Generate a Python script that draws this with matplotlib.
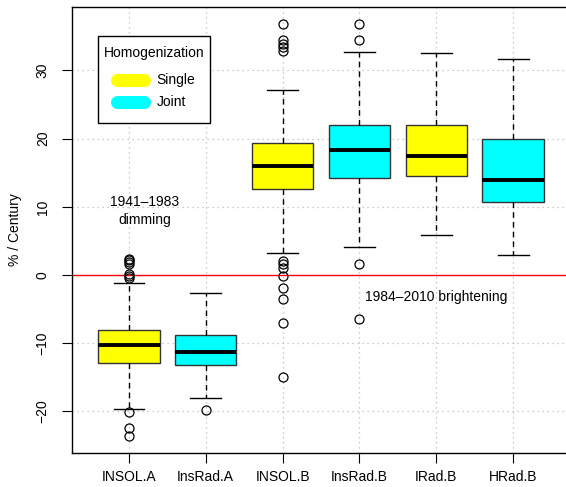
import matplotlib
matplotlib.use("Agg")
from matplotlib import pyplot as plt
from matplotlib.lines import Line2D
from matplotlib.patches import Rectangle

plt.rcParams['font.family'] = ['Liberation Sans', 'DejaVu Sans']

# Box statistics (% / century)
labels = ['INSOL.A', 'InsRad.A', 'INSOL.B', 'InsRad.B', 'IRad.B', 'HRad.B']
colors = ['yellow', 'cyan', 'yellow', 'cyan', 'yellow', 'cyan']
q1 = [-12.9, -13.2, 12.6, 14.2, 14.5, 10.7]
med = [-10.2, -11.3, 16.0, 18.3, 17.5, 13.9]
q3 = [-8.0, -8.8, 19.3, 22.0, 22.0, 19.9]
whis_lo = [-19.7, -18.1, 3.3, 4.1, 5.8, 2.9]
whis_hi = [-1.1, -2.7, 27.1, 32.7, 32.6, 31.7]
fliers = [
    [2.4, 2.2, 1.9, 1.6, 0.1, -0.2, -0.5, -20.1, -22.5, -23.6],
    [-19.8],
    [36.8, 34.4, 33.9, 33.4, 32.9, 2.1, 1.6, 1.0, -0.1, -1.9, -3.5, -7.1, -15.0],
    [36.8, 34.4, 1.6, -6.4],
    [],
    [],
]
legend_labels = ['Single', 'Joint']
legend_colors = ['yellow', 'cyan']

stats = []
for i in range(len(labels)):
    stats.append(dict(label=labels[i], q1=q1[i], med=med[i], q3=q3[i],
                      whislo=whis_lo[i], whishi=whis_hi[i], fliers=fliers[i]))

fig = plt.figure(figsize=(5.66, 4.87), dpi=100)
ax = fig.add_axes([72 / 566, 34 / 487, 498 / 566, 446 / 487])

positions = list(range(1, len(labels) + 1))

# grid first so boxes sit on top
for yv in [-20, -10, 0, 10, 20, 30]:
    ax.axhline(yv, color='#bbbbbb', lw=0.9, ls=(0, (1, 3)), zorder=0)
for xv in positions:
    ax.axvline(xv, color='#bbbbbb', lw=0.9, ls=(0, (1, 3)), zorder=0)

bp = ax.bxp(stats, positions=positions, widths=0.8, patch_artist=True,
            showfliers=True,
            boxprops=dict(edgecolor='#333333', linewidth=1.0),
            medianprops=dict(color='black', linewidth=2.8, solid_capstyle='butt'),
            whiskerprops=dict(color='black', linewidth=1.0, linestyle=(0, (4, 3))),
            capprops=dict(color='black', linewidth=1.0),
            capwidths=0.4,
            flierprops=dict(marker='o', markerfacecolor='none', markeredgecolor='black',
                            markersize=6.5, markeredgewidth=0.9))
for patch, c in zip(bp['boxes'], colors):
    patch.set_facecolor(c)

ax.axhline(0, color='red', lw=1.0, zorder=1)

ax.set_xlim(0.26, 6.74)
ax.set_ylim(-26.1, 39.3)
ax.set_xticks(positions)
ax.set_xticklabels(labels, fontsize=10)
ax.set_yticks([-20, -10, 0, 10, 20, 30])
ax.set_yticklabels(['\u221220', '\u221210', '0', '10', '20', '30'], fontsize=10,
                   rotation=90, va='center')
ax.tick_params(axis='both', direction='out', length=7, width=0.8, color='black')
ax.tick_params(axis='x', pad=5)
ax.tick_params(axis='y', pad=9)
ax.set_ylabel('% / Century', fontsize=10, labelpad=10)
for sp in ax.spines.values():
    sp.set_linewidth(1.0)

ax.text(1.21, 9.4, '1941\u20131983\ndimming', ha='center', va='center',
        fontsize=10, linespacing=1.3)
ax.text(5.0, -3.2, '1984\u20132010 brightening', ha='center', va='center',
        fontsize=10)

# legend box drawn by hand (R-style, in axes coordinates)
T = ax.transAxes
ax.add_patch(Rectangle((0.052, 0.740), 0.225, 0.195, transform=T,
                       facecolor='white', edgecolor='black', lw=1.0, zorder=5))
ax.text(0.1647, 0.897, 'Homogenization', transform=T, ha='center', va='center',
        fontsize=10, zorder=6)
for k, (lab, c) in enumerate(zip(legend_labels, legend_colors)):
    yk = 0.836 - k * 0.049
    ax.add_line(Line2D([0.091, 0.144], [yk, yk], transform=T, color=c, lw=9.4,
                       solid_capstyle='round', zorder=6))
    ax.text(0.170, yk, lab, transform=T, ha='left', va='center', fontsize=10,
            zorder=6)

fig.savefig('out.png', dpi=100)
